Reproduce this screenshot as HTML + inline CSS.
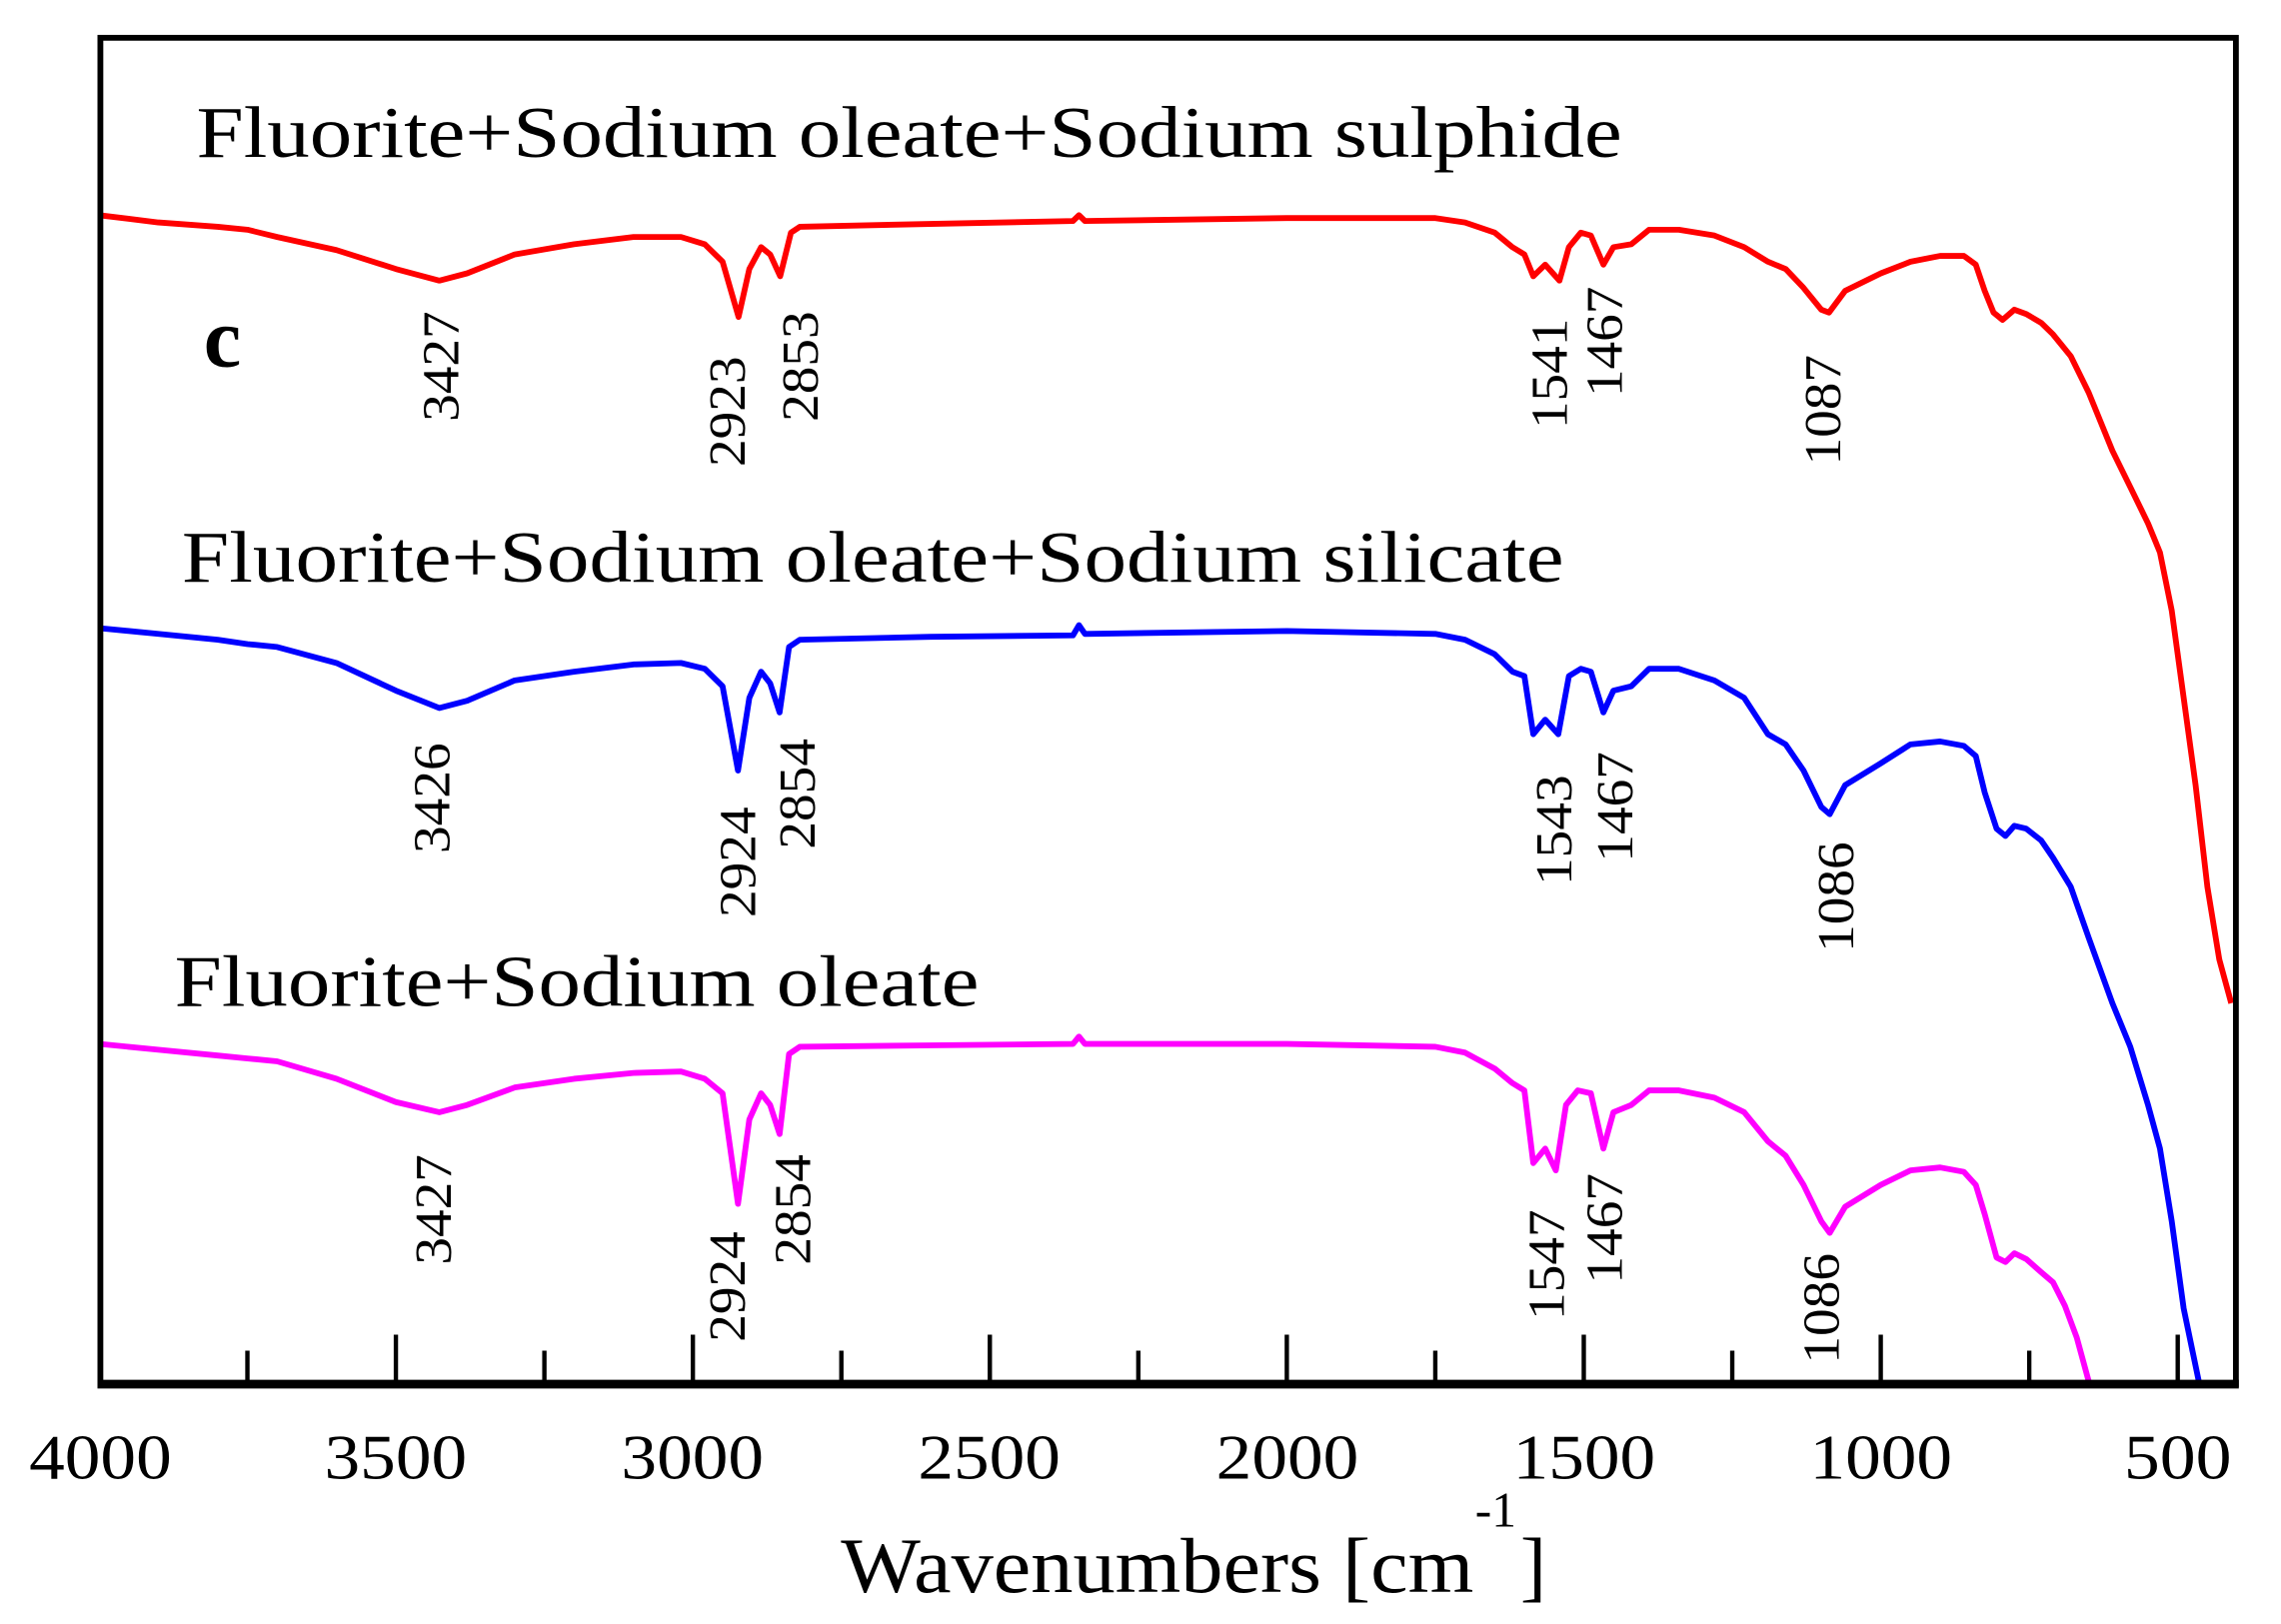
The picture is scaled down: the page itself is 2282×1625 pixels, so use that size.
<!DOCTYPE html>
<html><head><meta charset="utf-8"><style>
html,body{margin:0;padding:0;background:#fff;}
svg{display:block;}
text{font-family:"Liberation Serif",serif;fill:#000;}
</style></head><body>
<svg id="s" width="2282" height="1625" viewBox="0 0 1568 1117" preserveAspectRatio="none" xmlns="http://www.w3.org/2000/svg">
<rect x="0" y="0" width="1568" height="1117" fill="#fff"/>
<g id="ticks" stroke="#000" stroke-width="3"></g>
<g id="curves" fill="none" stroke-width="4" stroke-linejoin="round"></g>
<rect x="69" y="26" width="1468" height="926" fill="none" stroke="#000" stroke-width="4"/>
<line x1="67" y1="952" x2="1539" y2="952" stroke="#000" stroke-width="6"/>
<g font-size="44" lengthAdjust="spacingAndGlyphs">
<text x="20" y="1017" textLength="98" lengthAdjust="spacingAndGlyphs">4000</text>
<text x="223" y="1017" textLength="98" lengthAdjust="spacingAndGlyphs">3500</text>
<text x="427" y="1017" textLength="98" lengthAdjust="spacingAndGlyphs">3000</text>
<text x="631" y="1017" textLength="98" lengthAdjust="spacingAndGlyphs">2500</text>
<text x="836" y="1017" textLength="98" lengthAdjust="spacingAndGlyphs">2000</text>
<text x="1040" y="1017" textLength="98" lengthAdjust="spacingAndGlyphs">1500</text>
<text x="1244" y="1017" textLength="98" lengthAdjust="spacingAndGlyphs">1000</text>
<text x="1460" y="1017" textLength="74" lengthAdjust="spacingAndGlyphs">500</text>
</g>
<text x="578" y="1095" font-size="54" textLength="435" lengthAdjust="spacingAndGlyphs">Wavenumbers [cm</text>
<text x="1014" y="1050" font-size="34">-1</text>
<text x="1045" y="1095" font-size="54">]</text>
<g font-size="50">
<text x="135" y="108" textLength="980" lengthAdjust="spacingAndGlyphs">Fluorite+Sodium oleate+Sodium sulphide</text>
<text x="125" y="400" textLength="950" lengthAdjust="spacingAndGlyphs">Fluorite+Sodium oleate+Sodium silicate</text>
<text x="120" y="692" textLength="553" lengthAdjust="spacingAndGlyphs">Fluorite+Sodium oleate</text>
</g>
<text x="140" y="252" font-size="58" font-weight="bold">c</text>
<g id="labels" font-size="36"></g>
</svg>
<script>
var X=function(w){return 68+(4000-w)*0.40829;};
var t=document.getElementById('ticks'),h='';
for(var w=3750;w>=500;w-=250){var maj=(w%500==0);h+='<line x1="'+X(w)+'" y1="'+(maj?918:929)+'" x2="'+X(w)+'" y2="952"/>';}
t.innerHTML=h;
var red=[[4000,148],[3900,153],[3800,156],[3750,158],[3700,163],[3600,172],[3500,185],[3427,193],[3380,188],[3300,175],[3200,168],[3100,163],[3020,163],[2980,168],[2950,180],[2923,218],[2905,185],[2885,170],[2870,175],[2853,190],[2835,160],[2820,156],[2600,154],[2360,152],[2350,148],[2340,152],[2000,150],[1750,150],[1700,153],[1650,160],[1620,170],[1600,175],[1585,190],[1565,182],[1541,193],[1525,170],[1505,160],[1488,162],[1467,182],[1450,170],[1420,168],[1390,158],[1340,158],[1280,162],[1230,170],[1190,180],[1160,185],[1130,198],[1100,213],[1087,215],[1060,200],[1000,188],[950,180],[900,176],[860,176],[840,182],[825,200],[810,215],[795,220],[775,213],[755,216],[730,222],[710,230],[680,245],[650,270],[610,310],[580,335],[550,360],[530,380],[510,420],[490,480],[470,540],[450,610],[430,660],[410,690]];
var blue=[[4000,432],[3900,436],[3800,440],[3750,443],[3700,445],[3600,456],[3500,475],[3427,487],[3380,482],[3300,468],[3200,462],[3100,457],[3020,456],[2980,460],[2950,472],[2924,530],[2905,480],[2885,462],[2870,470],[2854,490],[2838,445],[2820,440],[2600,438],[2360,437],[2350,430],[2340,436],[2000,434],[1750,436],[1700,440],[1650,450],[1620,462],[1600,465],[1585,505],[1565,495],[1543,505],[1525,465],[1505,460],[1488,462],[1467,490],[1450,475],[1420,472],[1390,460],[1340,460],[1280,468],[1230,480],[1190,505],[1160,512],[1130,530],[1100,555],[1086,560],[1060,540],[1000,525],[950,512],[900,510],[860,513],[840,520],[825,545],[805,570],[790,575],[775,568],[755,570],[730,578],[710,590],[680,610],[650,645],[610,690],[580,720],[550,760],[530,790],[510,840],[490,900],[463,953]];
var mag=[[4000,718],[3900,722],[3800,726],[3750,728],[3700,730],[3600,742],[3500,758],[3427,765],[3380,760],[3300,748],[3200,742],[3100,738],[3020,737],[2980,742],[2950,752],[2924,828],[2905,770],[2885,752],[2870,760],[2854,780],[2838,725],[2820,720],[2600,719],[2360,718],[2350,713],[2340,718],[2000,718],[1750,720],[1700,724],[1650,735],[1620,745],[1600,750],[1585,800],[1565,790],[1547,805],[1530,760],[1510,750],[1488,752],[1467,790],[1450,765],[1420,760],[1390,750],[1340,750],[1280,755],[1230,765],[1190,785],[1160,795],[1130,815],[1100,840],[1086,848],[1060,830],[1000,815],[950,805],[900,803],[860,806],[840,815],[825,835],[805,865],[790,868],[775,862],[755,866],[730,875],[710,882],[690,898],[670,920],[650,950]];
function poly(p,c){return '<polyline stroke="'+c+'" points="'+p.map(function(q){return X(q[0]).toFixed(1)+','+q[1];}).join(' ')+'"/>';}
document.getElementById('curves').innerHTML=poly(red,'#ff0000')+poly(blue,'#0000ff')+poly(mag,'#ff00ff');
var L=[[303,252,'3427'],[500,283,'2923'],[550,252,'2853'],[1065,257,'1541'],[1103,235,'1467'],[1253,282,'1087'],
[297,549,'3426'],[507,593,'2924'],[548,546,'2854'],[1068,571,'1543'],[1110,555,'1467'],[1262,617,'1086'],
[298,832,'3427'],[500,885,'2924'],[545,832,'2854'],[1063,870,'1547'],[1103,845,'1467'],[1252,900,'1086']];
document.getElementById('labels').innerHTML=L.map(function(l){return '<text transform="translate('+(l[0]+12)+','+(l[1]+38)+') rotate(-90)" x="0" y="0" textLength="76" lengthAdjust="spacingAndGlyphs">'+l[2]+'</text>';}).join('');
</script>
</body></html>
